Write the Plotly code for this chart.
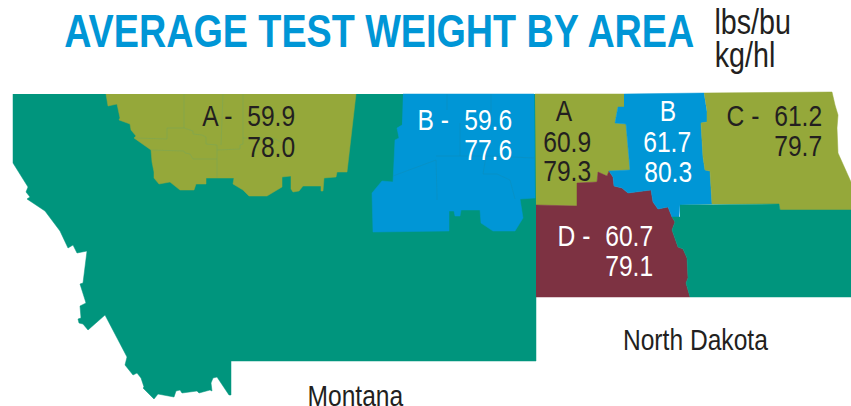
import plotly.graph_objects as go

TEAL, OLIVE, BLUE, MAROON, INK = "#00957D", "#95A83A", "#0096D6", "#7D3242", "#231F20"

MT_WHOLE_X = [13,13,13,28,26,30,27,45,60,68,73,77,87,83,80,86,80,81,78,79,83,88,105,127,125,133,137,141,144,143,154,158,174,176,180,182,197,199,210,212,211,213,217,229,231,231,536,536]
MT_WHOLE_Y = [94,145,163,187,192,197,199,211,231,248,245,253,251,283,284,303,306,318,319,323,324,330,315,357,365,375,373,378,387,388,399,394,397,391,390,393,391,393,390,391,383,378,377,395,395,361,361,94]
MT_A_X = [106,108,117,120,119,130,131,136,134,151,152,154,154,159,170,180,194,196,206,206,234,233,243,249,267,282,282,291,291,293,299,303,321,321,323,324,336,337,347,356]
MT_A_Y = [94,106,104,118,120,124,130,136,138,150,162,172,178,184,182,190,190,184,184,178,178,184,190,196,196,187,177,176,189,192,191,186,186,191,191,178,177,172,172,94]
MT_B_X = [403,534,535,520,523,515,493,487,481,480,461,460,455,454,449,449,373,372,382,393,395,399,397,402]
MT_B_Y = [94,94,198,199,218,231,231,227,223,210,210,216,216,211,211,231,232,193,181,182,140,138,128,125]
ND_A_X = [535,624,624,618,615,626,627,629,630,609,607,598,597,577,577,536]
ND_A_Y = [94,94,107,107,123,124,135,158,170,171,176,172,182,183,206,205]
ND_B_X = [624,704,707,707,701,703,705,710,712,680,679,672,668,658,653,651,628,622,614,613,609,630,629,627,626,615,618,624]
ND_B_Y = [94,93,112,122,123,157,170,171,204,205,217,217,207,209,202,190,193,188,186,177,171,170,158,135,124,123,107,107]
ND_C_X = [704,832,835,838,837,838,851,851,780,779,712,710,705,703,701,707,707]
ND_C_Y = [93,92,105,115,128,153,182,210,210,204,204,171,170,157,123,122,112]
ND_D_X = [536,577,577,597,598,607,609,613,614,622,628,651,653,658,668,672,675,672,678,683,687,688,686,690,536]
ND_D_Y = [205,206,183,182,172,176,171,177,186,188,193,190,202,209,207,217,222,230,247,249,258,278,283,297,297]
ND_TEAL_X = [680,779,780,851,851,690,686,688,687,683,678,672,675,672,680]
ND_TEAL_Y = [205,204,210,210,297,297,283,278,258,249,247,230,222,217,217]

# county divisions visible inside the areas
MT_A_LINES = [
    ([184,184],[94,128]), ([223,221],[94,145]), ([243,243,240,240,217],[94,144,145,149,150]),
    ([135,167,167,184,193,193,202,206,206,217],[138,139,128,128,131,134,135,137,144,145]),
    ([151,184,185,190,193,217],[150,151,153,154,159,159]),
    ([217,217],[145,178]), ([243,273,287,287],[138,138,145,150]),
]
MT_B_LINES = [
    ([447,447],[94,110]), ([491,491],[94,123]), ([460,460],[123,156]),
    ([393,414,436,437,437],[176,168,160,195,200]), ([436,460,486,535],[156,156,156,158]),
    ([486,483,497,510,515],[156,174,174,180,199]),
]

LABELS = ["A -", "59.9", "78.0", "B -", "59.6", "77.6", "A", "60.9", "79.3", "B", "61.7", "80.3",
          "C -", "61.2", "79.7", "D -", "60.7", "79.1", "Montana", "North Dakota", "lbs/bu", "kg/hl"]
LABEL_X = [217, 271, 271, 433, 488, 488, 564, 567, 567, 668, 667, 668, 743, 798, 798, 574, 629, 629, 355, 695, 752, 745]
LABEL_Y = [115, 115, 146, 119, 119, 149, 110, 141, 170, 110, 141, 171, 115, 115, 145, 235, 235, 265, 395, 339, 21, 54]
LABEL_C = [INK, INK, INK, "white", "white", "white", INK, INK, INK, "white", "white", "white",
           INK, INK, INK, "white", "white", "white", INK, INK, INK, INK]
LABEL_SIZE = [30]*20 + [35, 35]

fig = go.Figure()
for x, y, c in [(MT_WHOLE_X, MT_WHOLE_Y, TEAL), (MT_A_X, MT_A_Y, OLIVE), (MT_B_X, MT_B_Y, BLUE),
                (ND_A_X, ND_A_Y, OLIVE), (ND_D_X, ND_D_Y, MAROON), (ND_B_X, ND_B_Y, BLUE),
                (ND_C_X, ND_C_Y, OLIVE), (ND_TEAL_X, ND_TEAL_Y, TEAL)]:
    fig.add_trace(go.Scatter(x=x, y=y, fill="toself", fillcolor=c, mode="lines",
                             line=dict(width=0.5, color=c), hoverinfo="skip", showlegend=False))
for lines, c in [(MT_A_LINES, "#7FA650"), (MT_B_LINES, "#0A8FC0")]:
    for x, y in lines:
        fig.add_trace(go.Scatter(x=x, y=y, mode="lines", line=dict(width=0.7, color=c),
                                 hoverinfo="skip", showlegend=False))

FONT = "Liberation Sans, Arial, sans-serif"
anns = [dict(x=379, y=31, text="<b>AVERAGE TEST WEIGHT BY AREA</b>", showarrow=False, xanchor="center", yanchor="middle",
             font=dict(family=FONT, size=46, color=BLUE))]
for t, x, y, c, s in zip(LABELS, LABEL_X, LABEL_Y, LABEL_C, LABEL_SIZE):
    anns.append(dict(x=x, y=y, text=t, showarrow=False, xanchor="center", yanchor="middle",
                     font=dict(family=FONT, size=s, color=c)))

fig.update_layout(width=851, height=406, margin=dict(l=0, r=0, t=0, b=0), paper_bgcolor="white", plot_bgcolor="white",
                  xaxis=dict(range=[0, 851], visible=False, fixedrange=True),
                  yaxis=dict(range=[406, 0], visible=False, fixedrange=True),
                  annotations=anns, showlegend=False)

# no condensed face is installed: squeeze the real text horizontally, and drop the page margin
POST = """
document.body.style.margin = '0';
document.querySelectorAll('.annotation-text').forEach(function (t) {
  var w = t.getComputedTextLength();
  var k = t.textContent.indexOf('AVERAGE') === 0 ? 0.82 : 0.82;
  t.setAttribute('textLength', (w * k).toFixed(1));
  t.setAttribute('lengthAdjust', 'spacingAndGlyphs');
});
"""
fig.write_html("out.html", config={"displayModeBar": False}, post_script=POST)
